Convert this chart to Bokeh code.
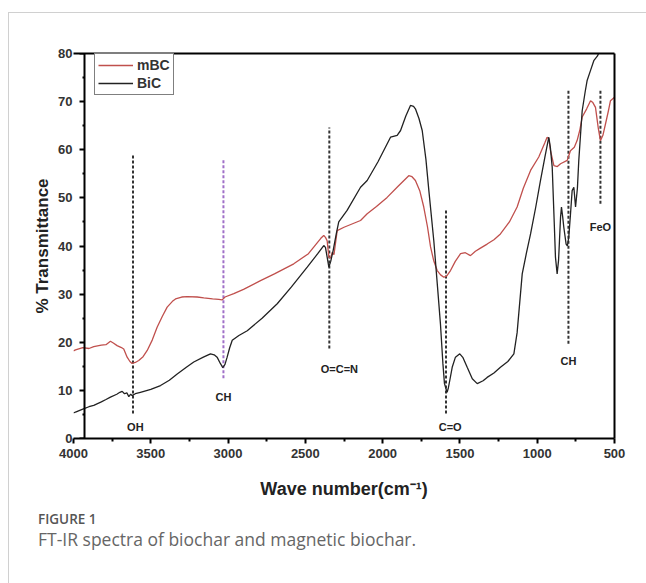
from bokeh.plotting import figure
from bokeh.models import Range1d, LinearAxis, FixedTicker, Legend, LegendItem, Div, ColumnDataSource
from bokeh.layouts import column
from bokeh.core.properties import value
from bokeh.embed import file_html
from bokeh.resources import INLINE

# ---------------- data ----------------
mbc_x = [4000, 3987, 3940, 3900, 3869, 3820, 3790, 3761, 3740, 3718, 3690, 3675, 3653, 3635, 3621,
         3600, 3578, 3550, 3523, 3490, 3459, 3425, 3394, 3360, 3340, 3300, 3265, 3200, 3157, 3100,
         3060, 3038, 3020, 2963, 2900, 2790, 2700, 2575, 2480, 2400, 2381, 2370, 2359, 2348, 2336,
         2326, 2315, 2294, 2250, 2143, 2100, 2040, 1971, 1900, 1831, 1810, 1788, 1760, 1734, 1710,
         1690, 1670, 1647, 1625, 1604, 1585, 1561, 1530, 1496, 1465, 1432, 1400, 1370, 1324, 1280,
         1238, 1180, 1130, 1090, 1043, 990, 950, 936, 925, 914, 892, 870, 849, 806, 785,
         760, 742, 725, 709, 680, 655, 640, 623, 605, 591, 575, 558, 540, 526, 500]
mbc_y = [18.2, 18.4, 18.9, 18.7, 19.1, 19.4, 19.5, 20.2, 19.8, 19.3, 18.9, 18.6, 16.9, 16.0, 15.6,
         15.8, 16.2, 17.0, 18.3, 20.5, 23.1, 25.4, 27.3, 28.5, 29.0, 29.4, 29.5, 29.4, 29.2, 29.0,
         28.9, 28.8, 29.4, 30.1, 31.0, 32.8, 34.2, 36.3, 38.4, 41.6, 42.2, 41.8, 41.1, 37.7, 37.5,
         38.7, 38.2, 43.2, 43.9, 45.3, 46.7, 48.2, 50.1, 52.4, 54.6, 54.4, 53.6, 51.5, 48.1, 44.0,
         39.8, 37.0, 34.9, 34.0, 33.5, 33.8, 34.9, 36.8, 38.4, 38.6, 38.0, 38.9, 39.5, 40.4, 41.3,
         42.5, 45.0, 48.1, 52.0, 55.7, 58.5, 61.5, 62.6, 62.3, 59.8, 56.7, 56.5, 57.1, 57.8, 59.8,
         60.5, 61.9, 64.0, 66.8, 68.5, 70.2, 69.8, 68.8, 64.5, 61.9, 63.0, 65.4, 68.0, 70.2, 70.9]

bic_x = [4000, 3987, 3940, 3900, 3869, 3820, 3790, 3761, 3720, 3700, 3685, 3670, 3655, 3642, 3630,
         3621, 3600, 3567, 3500, 3437, 3380, 3329, 3270, 3222, 3160, 3114, 3090, 3071, 3050, 3034,
         3020, 3006, 2990, 2973, 2930, 2876, 2780, 2682, 2590, 2488, 2420, 2381, 2370, 2359, 2348,
         2336, 2320, 2300, 2284, 2230, 2143, 2100, 2030, 1949, 1906, 1884, 1850, 1820, 1800, 1788,
         1765, 1744, 1720, 1701, 1669, 1645, 1626, 1610, 1600, 1590, 1583, 1575, 1566, 1550, 1529,
         1501, 1480, 1453, 1420, 1388, 1350, 1324, 1280, 1238, 1190, 1151, 1130, 1097, 1070, 1043,
         1010, 979, 950, 925, 915, 903, 890, 882, 871, 862, 856, 849, 843, 835, 828,
         813, 805, 796, 785, 774, 763, 752, 740, 731, 720, 709, 690, 677, 655, 634,
         610, 590, 570]
bic_y = [5.3, 5.5, 6.1, 6.6, 6.9, 7.6, 8.1, 8.6, 9.2, 9.6, 9.8, 9.3, 9.5, 8.7, 9.2,
         8.9, 9.3, 9.6, 10.2, 11.0, 12.1, 13.4, 14.8, 15.9, 16.9, 17.6, 17.4, 16.9, 15.6, 14.7,
         15.4, 16.9, 18.8, 20.4, 21.4, 22.4, 25.0, 28.0, 31.5, 35.6, 38.4, 40.1, 39.7, 37.7, 35.6,
         36.8, 39.1, 42.5, 45.0, 47.4, 52.2, 53.6, 57.5, 62.6, 63.0, 64.0, 67.0, 69.2, 69.0, 68.5,
         66.5, 64.0, 58.0, 51.5, 41.1, 31.5, 23.8, 15.5, 11.4, 10.3, 9.6, 10.5, 12.0, 14.8, 16.9,
         17.6, 16.8, 14.8, 12.4, 11.4, 12.0, 12.7, 13.6, 14.8, 16.0, 17.6, 22.0, 34.2, 38.5, 42.5,
         48.0, 53.6, 58.5, 62.6, 60.5, 56.4, 45.0, 37.7, 34.2, 37.0, 41.1, 46.0, 48.1, 46.0, 43.9,
         40.4, 40.0, 41.8, 46.5, 51.5, 52.2, 48.1, 52.0, 57.8, 63.0, 68.1, 72.0, 74.4, 76.5, 78.5,
         79.5, 81.0, 83.0]

peak_names = ["OH", "CH", "O=C=N", "C=O", "CH", "FeO"]
peak_wn = [3615, 3030, 2345, 1590, 798, 591]
peak_top = [58.8, 57.8, 64.6, 47.4, 72.7, 72.3]
peak_bottom = [5.2, 12.5, 18.7, 5.2, 19.7, 48.8]
peak_colors = ["#333333", "#a070c8", "#333333", "#333333", "#333333", "#333333"]
label_wn = [3600, 3030, 2280, 1563, 798, 591]
label_val = [2.3, 8.7, 14.5, 2.3, 16.2, 44.0]

x_ticks = [4000, 3500, 3000, 2500, 2000, 1500, 1000, 500]
x_minor = [3750, 3250, 2750, 2250, 1750, 1250, 750]
y_ticks = [0, 10, 20, 30, 40, 50, 60, 70, 80]
y_minor = [5, 15, 25, 35, 45, 55, 65, 75]
y_axis_at = 3929  # wavenumber where the drawn y-axis line sits

# ---------------- figure ----------------
FONT = "Liberation Sans"
p = figure(width=637, height=490, x_range=Range1d(4000, 500), y_range=Range1d(0, 80),
           output_backend="svg", toolbar_location=None,
           min_border_left=64, min_border_right=32, min_border_top=40, min_border_bottom=65)
p.xgrid.visible = False
p.ygrid.visible = False
p.outline_line_color = None
p.background_fill_color = "white"
p.border_fill_color = "white"

xa = p.xaxis[0]
xa.ticker = FixedTicker(ticks=x_ticks, minor_ticks=x_minor)
xa.axis_line_width = 2
xa.major_tick_line_width = 2
xa.minor_tick_line_width = 2
xa.major_tick_in = 0
xa.major_tick_out = 5
xa.minor_tick_in = 0
xa.minor_tick_out = 3
xa.major_label_standoff = 5
xa.major_label_text_font = FONT
xa.major_label_text_font_style = "bold"
xa.major_label_text_font_size = "13px"
xa.major_label_text_color = "#333333"
xa.axis_label = "Wave number(cm\u207b\u00b9)"
xa.axis_label_text_font = FONT
xa.axis_label_text_font_style = "bold"
xa.axis_label_text_font_size = "18px"
xa.axis_label_text_color = "#222222"
xa.axis_label_standoff = 18

# labels-only axis at the frame edge
ya = p.yaxis[0]
ya.ticker = FixedTicker(ticks=y_ticks, minor_ticks=y_minor)
ya.axis_line_color = None
ya.major_tick_line_color = None
ya.minor_tick_line_color = None
ya.major_tick_in = 0
ya.major_tick_out = 0
ya.minor_tick_in = 0
ya.minor_tick_out = 0
ya.major_label_standoff = 1
ya.major_label_text_font = FONT
ya.major_label_text_font_style = "bold"
ya.major_label_text_font_size = "13px"
ya.major_label_text_color = "#333333"
ya.axis_label = "% Transmittance"
ya.axis_label_text_font = FONT
ya.axis_label_text_font_style = "bold"
ya.axis_label_text_font_size = "17px"
ya.axis_label_text_color = "#222222"
ya.axis_label_standoff = 3

# line + ticks axis drawn at a fixed data location (its labels are not drawn)
yline = LinearAxis(fixed_location=y_axis_at, ticker=FixedTicker(ticks=y_ticks, minor_ticks=y_minor),
                   axis_line_width=2, major_tick_line_width=2, minor_tick_line_width=2,
                   major_tick_in=0, major_tick_out=5, minor_tick_in=0, minor_tick_out=2,
                   major_label_text_color=None, major_label_text_alpha=0,
                   major_label_text_font_size="10px")
p.add_layout(yline, "left")

top_axis = LinearAxis(ticker=FixedTicker(ticks=[]), axis_line_width=2,
                      major_label_text_color=None)
right_axis = LinearAxis(ticker=FixedTicker(ticks=[]), axis_line_width=2,
                        major_label_text_color=None)
p.add_layout(top_axis, "above")
p.add_layout(right_axis, "right")

# dotted peak markers
peaks = ColumnDataSource(dict(x=peak_wn, y0=peak_bottom, y1=peak_top, c=peak_colors,
                              lx=label_wn, ly=label_val, t=peak_names))
p.segment(x0="x", y0="y0", x1="x", y1="y1", source=peaks, line_color="c",
          line_width=2, line_dash="3 2")
p.text(x="lx", y="ly", text="t", source=peaks, text_font=value(FONT), text_font_style="bold",
       text_font_size="11px", text_color="#222222", text_align="center", text_baseline="middle")

r_mbc = p.line(mbc_x, mbc_y, line_color="#c0504d", line_width=1.3)
r_bic = p.line(bic_x, bic_y, line_color="#222222", line_width=1.3)

legend = Legend(items=[LegendItem(label="mBC", renderers=[r_mbc]),
                       LegendItem(label="BiC", renderers=[r_bic])],
                location=(21, 343), orientation="vertical")
legend.border_line_color = "black"
legend.border_line_width = 1
legend.background_fill_color = "white"
legend.background_fill_alpha = 1
legend.label_text_font = FONT
legend.label_text_font_style = "bold"
legend.label_text_font_size = "14px"
legend.label_text_color = "#333333"
legend.glyph_width = 35
legend.glyph_height = 16
legend.label_height = 16
legend.spacing = 2
legend.padding = 3
legend.margin = 0
legend.label_standoff = 4
p.add_layout(legend)

caption = Div(width=637, height=80, text=(
    "<div style=\"padding:2px 0 0 24px;font-family:'Open Sans';\">"
    "<div style='font-size:13.5px;font-weight:600;color:#555;line-height:18px;'>FIGURE 1</div>"
    "<div style='font-size:17.5px;color:#666;line-height:22px;'>"
    "FT-IR spectra of biochar and magnetic biochar.</div></div>"))

layout = column(p, caption, margin=(12, 0, 0, 8),
                styles={"border-top": "1px solid #d0d0d0", "border-left": "1px solid #d0d0d0"})

open("out.html", "w").write(file_html(layout, INLINE))
